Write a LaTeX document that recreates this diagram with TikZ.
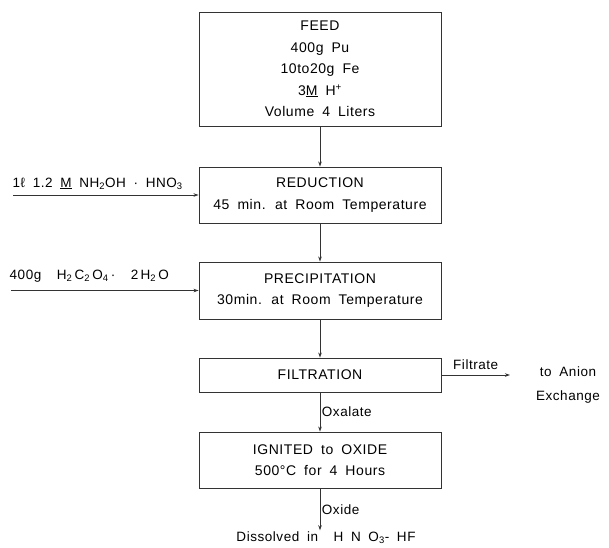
\documentclass[tikz,border=0pt]{standalone}
\usepackage{fontspec}
\setmainfont[LetterSpace=4,WordSpace=1.8]{Liberation Sans}
\usetikzlibrary{arrows.meta}

\newcommand\sub[1]{\textsubscript{#1}}

\tikzset{
  stepbox/.style={draw=black!80, line width=.9pt, minimum width=242pt, inner sep=0pt,
    align=center, font=\fontsize{14}{21.5}\selectfont},
  flow/.style={draw=black!80, line width=.9pt, -{Stealth[length=5pt,width=3.5pt]}},
  lbl/.style={font=\fontsize{13.5}{24}\selectfont, inner sep=1.5pt}
}

\begin{document}
\begin{tikzpicture}[x=1pt, y=-1pt]
  \useasboundingbox (0,0) rectangle (609,547);
  % process steps
  \node[stepbox, minimum height=114pt] (feed) at (320,69)
    {FEED\\400g Pu\\10to20g Fe\\3\underline{M} H\textsuperscript{+}\\Volume 4 Liters};
  \node[stepbox, minimum height=56pt] (red) at (320,195)
    {REDUCTION\\45 min. at Room Temperature};
  \node[stepbox, minimum height=57pt] (prec) at (320,290.5)
    {PRECIPITATION\\30min. at Room Temperature};
  \node[stepbox, minimum height=34pt] (filt) at (320,375) {FILTRATION};
  \node[stepbox, minimum height=56pt] (ign) at (320,460)
    {IGNITED to OXIDE\\500°C for 4 Hours};
  % reagents
  \coordinate (hyd) at (13,195);
  \node[lbl, anchor=south west] (hydlbl) at (11,191)
    {1ℓ 1.2 \underline{M} NH\sub{2}OH · HNO\sub{3}};
  \coordinate (oxa) at (11,290.5);
  \node[lbl, anchor=south west] (oxalbl) at (8,284)
    {400g\ \ H\sub{2}\,C\sub{2}\,O\sub{4}\,·\ \ 2\,H\sub{2}\,O};
  % products
  \coordinate (filtx) at (510,375);
  \node[lbl, align=center] (anion) at (568,385) {to Anion\\Exchange};
  \node[lbl] (dis) at (326,538) {Dissolved\ in\ \ H N O\sub{3}- HF};
  % flow lines
  \draw[flow] (feed) -- (red);
  \draw[flow] (red) -- (prec);
  \draw[flow] (prec) -- (filt);
  \draw[flow] (filt) -- (ign) node[lbl, midway, right] {Oxalate};
  \draw[flow] (ign.south) -- (ign.south |- dis.north) node[lbl, midway, right] {Oxide};
  \draw[flow] (hyd) -- (red.west);
  \draw[flow] (oxa) -- (prec.west);
  \draw[flow] (filt.east) -- (filtx) node[lbl, midway, above=3pt] {Filtrate};
\end{tikzpicture}
\end{document}
